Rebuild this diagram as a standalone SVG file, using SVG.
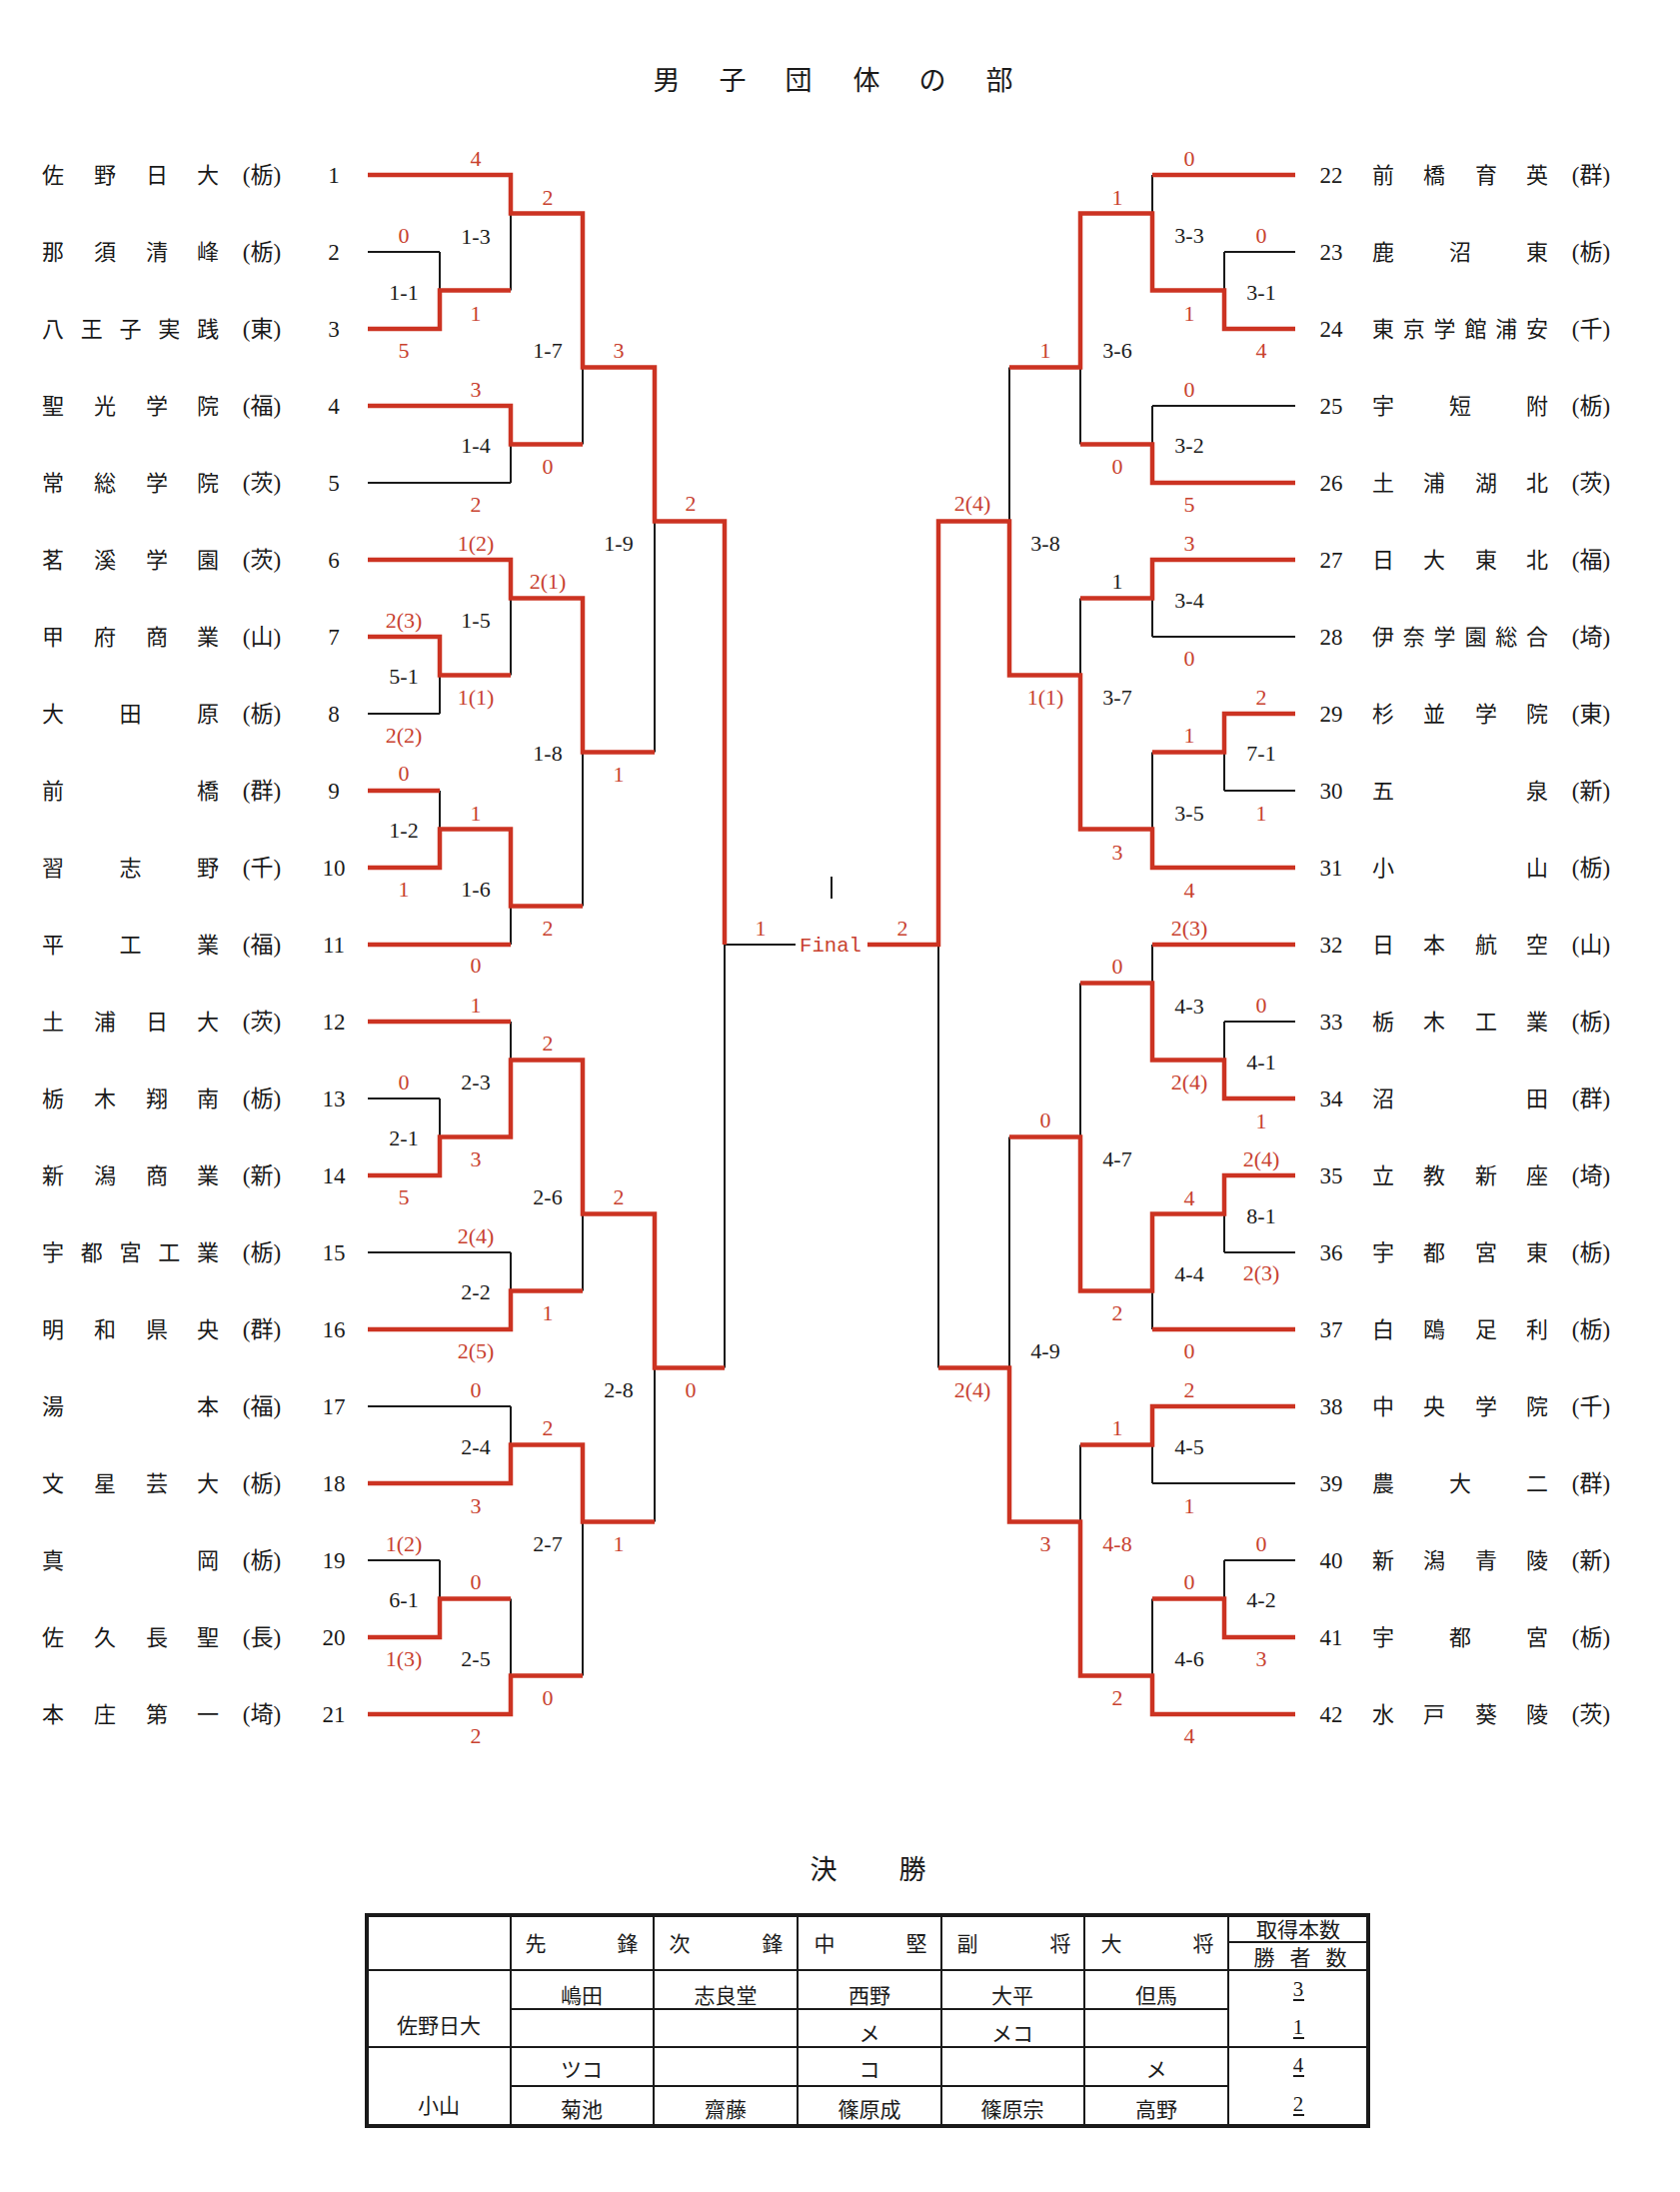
<svg xmlns="http://www.w3.org/2000/svg" width="1681" height="2193" viewBox="0 0 1681 2193">
<style>
.t{font-family:"Noto Sans CJK JP","Noto Sans CJK SC",sans-serif;font-size:27px;fill:#1a1a1a;text-anchor:middle}
.n{font-family:"Noto Sans CJK JP","Noto Sans CJK SC",sans-serif;font-size:22px;fill:#1a1a1a;text-anchor:middle}
.p{font-family:"Liberation Serif","Noto Sans CJK JP",serif;font-size:23px;fill:#1a1a1a;text-anchor:middle}
.num{font-family:"Liberation Serif",serif;font-size:23px;fill:#1a1a1a;text-anchor:middle}
.s{font-family:"Liberation Serif",serif;font-size:22px;fill:#c8412f;text-anchor:middle}
.m{font-family:"Liberation Serif",serif;font-size:22px;fill:#1a1a1a;text-anchor:middle}
.f{font-family:"Liberation Mono",monospace;font-size:21px;fill:#c8412f}
.bk{stroke:#1a1a1a;stroke-width:2;fill:none}
.rd{stroke:#cc3322;stroke-width:4.5;fill:none;stroke-linejoin:miter}
.tb{font-family:"Noto Sans CJK JP","Noto Sans CJK SC",sans-serif;font-size:21px;fill:#1a1a1a;text-anchor:middle}
.tn{font-family:"Liberation Serif",serif;font-size:21px;fill:#1a1a1a;text-anchor:middle}
</style>
<rect width="1681" height="2193" fill="#ffffff"/>
<g id="title"><text class="t" x="667 733 799 867 933 1000" y="90">男子団体の部</text></g>

<g id="connectors">
<path class="bk" d="M368 252H440M368 329H440M368 637H440M368 714H440M368 791H440M368 868H440M368 1099H440M368 1176H440M368 1561H440M368 1638H440
M368 175H511M368 406H511M368 483H511M368 560H511M368 945H511M368 1022H511M368 1253H511M368 1330H511M368 1407H511M368 1484H511M368 1715H511
M440 252V329M440 637V714M440 791V868M440 1099V1176M440 1561V1638
M511 175V290.5M511 406V483M511 560V675.5M511 829.5V945M511 1022V1137.5M511 1253V1330M511 1407V1484M511 1599.5V1715
M583 213.5V444.5M583 598.5V906.5M583 1060.5V1291.5M583 1445.5V1676.5
M655 367.5V752.5M655 1214.5V1522.5
M725 521.5V1368.5M725 945H796
M1225 252H1296M1225 329H1296M1225 714H1296M1225 791H1296M1225 1022H1296M1225 1099H1296M1225 1176H1296M1225 1253H1296M1225 1561H1296M1225 1638H1296
M1153 175H1296M1153 406H1296M1153 483H1296M1153 560H1296M1153 637H1296M1153 868H1296M1153 945H1296M1153 1330H1296M1153 1407H1296M1153 1484H1296M1153 1715H1296
M1225 252V329M1225 714V791M1225 1022V1099M1225 1176V1253M1225 1561V1638
M1153 175V290.5M1153 406V483M1153 560V637M1153 752.5V868M1153 945V1060.5M1153 1214.5V1330M1153 1407V1484M1153 1599.5V1715
M1081 213.5V444.5M1081 598.5V829.5M1081 983.5V1291.5M1081 1445.5V1676.5
M1010 367.5V675.5M1010 1137.5V1522.5
M939 521.5V1368.5"/>
<path class="bk" stroke-width="1.5" d="M832 877V899"/>
<path class="rd" d="M368 175H511V213.5H583V367.5H655V521.5H725V945
M368 329H440V290.5H511
M368 406H511V444.5H583
M368 560H511V598.5H583V752.5H655
M368 637H440V675.5H511
M368 791H440
M368 868H440V829.5H511V906.5H583
M368 945H511
M368 1022H511
M368 1176H440V1137.5H511V1060.5H583V1214.5H655V1368.5H725
M368 1330H511V1291.5H583
M368 1484H511V1445.5H583V1522.5H655
M368 1638H440V1599.5H511
M368 1715H511V1676.5H583
M868 945H939V521.5H1010V675.5H1081V829.5H1153V868H1296
M1296 175H1153
M1296 329H1225V290.5H1153V213.5H1081V367.5H1010
M1296 483H1153V444.5H1081
M1296 560H1153V598.5H1081
M1296 714H1225V752.5H1153
M1296 945H1153
M1296 1099H1225V1060.5H1153V983.5H1081
M1296 1176H1225V1214.5H1153V1291.5H1081V1137.5H1010
M1296 1330H1153
M1296 1407H1153V1445.5H1081
M1296 1638H1225V1599.5H1153
M1296 1715H1153V1676.5H1081V1522.5H1010V1368.5H939"/>
<text class="f" x="800" y="952" textLength="62" lengthAdjust="spacingAndGlyphs">Final</text>
</g>

<g id="labels">
<text class="s" x="476" y="166">4</text>
<text class="s" x="404" y="243">0</text>
<text class="m" x="476" y="244">1-3</text>
<text class="m" x="404" y="300">1-1</text>
<text class="s" x="476" y="321">1</text>
<text class="s" x="404" y="358">5</text>
<text class="s" x="548" y="205">2</text>
<text class="m" x="548" y="358">1-7</text>
<text class="s" x="619" y="358">3</text>
<text class="s" x="476" y="397">3</text>
<text class="m" x="476" y="453">1-4</text>
<text class="s" x="548" y="474">0</text>
<text class="s" x="476" y="512">2</text>
<text class="s" x="691" y="511">2</text>
<text class="m" x="619" y="551">1-9</text>
<text class="s" x="476" y="551">1(2)</text>
<text class="s" x="548" y="589">2(1)</text>
<text class="s" x="404" y="628">2(3)</text>
<text class="m" x="476" y="628">1-5</text>
<text class="m" x="404" y="684">5-1</text>
<text class="s" x="476" y="705">1(1)</text>
<text class="s" x="404" y="743">2(2)</text>
<text class="m" x="548" y="761">1-8</text>
<text class="s" x="619" y="782">1</text>
<text class="s" x="404" y="781">0</text>
<text class="s" x="476" y="821">1</text>
<text class="m" x="404" y="838">1-2</text>
<text class="s" x="404" y="897">1</text>
<text class="m" x="476" y="897">1-6</text>
<text class="s" x="548" y="936">2</text>
<text class="s" x="476" y="973">0</text>
<text class="s" x="761" y="936">1</text>
<text class="s" x="476" y="1013">1</text>
<text class="s" x="548" y="1051">2</text>
<text class="s" x="404" y="1090">0</text>
<text class="m" x="476" y="1090">2-3</text>
<text class="m" x="404" y="1146">2-1</text>
<text class="s" x="476" y="1167">3</text>
<text class="s" x="404" y="1205">5</text>
<text class="m" x="548" y="1205">2-6</text>
<text class="s" x="619" y="1205">2</text>
<text class="s" x="476" y="1244">2(4)</text>
<text class="m" x="476" y="1300">2-2</text>
<text class="s" x="548" y="1321">1</text>
<text class="s" x="476" y="1359">2(5)</text>
<text class="s" x="476" y="1398">0</text>
<text class="m" x="619" y="1398">2-8</text>
<text class="s" x="691" y="1398">0</text>
<text class="s" x="548" y="1436">2</text>
<text class="m" x="476" y="1455">2-4</text>
<text class="s" x="476" y="1514">3</text>
<text class="s" x="404" y="1552">1(2)</text>
<text class="m" x="548" y="1552">2-7</text>
<text class="s" x="619" y="1552">1</text>
<text class="s" x="476" y="1590">0</text>
<text class="m" x="404" y="1608">6-1</text>
<text class="s" x="404" y="1667">1(3)</text>
<text class="m" x="476" y="1667">2-5</text>
<text class="s" x="548" y="1706">0</text>
<text class="s" x="476" y="1744">2</text>

<text class="s" x="1190" y="166">0</text>
<text class="s" x="1262" y="243">0</text>
<text class="m" x="1190" y="243">3-3</text>
<text class="s" x="1118" y="205">1</text>
<text class="m" x="1262" y="300">3-1</text>
<text class="s" x="1190" y="321">1</text>
<text class="s" x="1262" y="358">4</text>
<text class="m" x="1118" y="358">3-6</text>
<text class="s" x="1046" y="358">1</text>
<text class="s" x="1190" y="397">0</text>
<text class="m" x="1190" y="453">3-2</text>
<text class="s" x="1118" y="474">0</text>
<text class="s" x="1190" y="512">5</text>
<text class="s" x="973" y="511">2(4)</text>
<text class="m" x="1046" y="551">3-8</text>
<text class="s" x="1190" y="551">3</text>
<text class="m" x="1118" y="589">1</text>
<text class="m" x="1190" y="608">3-4</text>
<text class="s" x="1190" y="666">0</text>
<text class="s" x="1046" y="705">1(1)</text>
<text class="m" x="1118" y="705">3-7</text>
<text class="s" x="1262" y="705">2</text>
<text class="s" x="1190" y="743">1</text>
<text class="m" x="1262" y="761">7-1</text>
<text class="m" x="1190" y="821">3-5</text>
<text class="s" x="1262" y="821">1</text>
<text class="s" x="1118" y="860">3</text>
<text class="s" x="1190" y="898">4</text>
<text class="s" x="903" y="936">2</text>
<text class="s" x="1190" y="936">2(3)</text>
<text class="s" x="1118" y="974">0</text>
<text class="s" x="1262" y="1013">0</text>
<text class="m" x="1190" y="1014">4-3</text>
<text class="m" x="1262" y="1070">4-1</text>
<text class="s" x="1190" y="1090">2(4)</text>
<text class="s" x="1046" y="1128">0</text>
<text class="s" x="1262" y="1129">1</text>
<text class="m" x="1118" y="1167">4-7</text>
<text class="s" x="1262" y="1167">2(4)</text>
<text class="s" x="1190" y="1206">4</text>
<text class="m" x="1262" y="1224">8-1</text>
<text class="m" x="1190" y="1282">4-4</text>
<text class="s" x="1262" y="1281">2(3)</text>
<text class="s" x="1118" y="1321">2</text>
<text class="m" x="1046" y="1359">4-9</text>
<text class="s" x="1190" y="1359">0</text>
<text class="s" x="973" y="1398">2(4)</text>
<text class="s" x="1190" y="1398">2</text>
<text class="s" x="1118" y="1436">1</text>
<text class="m" x="1190" y="1455">4-5</text>
<text class="s" x="1190" y="1514">1</text>
<text class="s" x="1046" y="1552">3</text>
<text class="s" x="1118" y="1552">4-8</text>
<text class="s" x="1262" y="1552">0</text>
<text class="s" x="1190" y="1590">0</text>
<text class="m" x="1262" y="1608">4-2</text>
<text class="m" x="1190" y="1667">4-6</text>
<text class="s" x="1262" y="1667">3</text>
<text class="s" x="1118" y="1706">2</text>
<text class="s" x="1190" y="1744">4</text>
</g>

<g id="team-1"><text class="n" x="53 105 157 208" y="183">佐野日大</text><text class="p" x="262" y="183">(栃)</text><text class="num" x="334" y="183">1</text></g>
<g id="team-2"><text class="n" x="53 105 157 208" y="260">那須清峰</text><text class="p" x="262" y="260">(栃)</text><text class="num" x="334" y="260">2</text></g>
<g id="team-3"><text class="n" x="53 91.75 130.5 169.25 208" y="337">八王子実践</text><text class="p" x="262" y="337">(東)</text><text class="num" x="334" y="337">3</text></g>
<g id="team-4"><text class="n" x="53 105 157 208" y="414">聖光学院</text><text class="p" x="262" y="414">(福)</text><text class="num" x="334" y="414">4</text></g>
<g id="team-5"><text class="n" x="53 105 157 208" y="491">常総学院</text><text class="p" x="262" y="491">(茨)</text><text class="num" x="334" y="491">5</text></g>
<g id="team-6"><text class="n" x="53 105 157 208" y="568">茗溪学園</text><text class="p" x="262" y="568">(茨)</text><text class="num" x="334" y="568">6</text></g>
<g id="team-7"><text class="n" x="53 105 157 208" y="645">甲府商業</text><text class="p" x="262" y="645">(山)</text><text class="num" x="334" y="645">7</text></g>
<g id="team-8"><text class="n" x="53 130.5 208" y="722">大田原</text><text class="p" x="262" y="722">(栃)</text><text class="num" x="334" y="722">8</text></g>
<g id="team-9"><text class="n" x="53 208" y="799">前橋</text><text class="p" x="262" y="799">(群)</text><text class="num" x="334" y="799">9</text></g>
<g id="team-10"><text class="n" x="53 130.5 208" y="876">習志野</text><text class="p" x="262" y="876">(千)</text><text class="num" x="334" y="876">10</text></g>
<g id="team-11"><text class="n" x="53 130.5 208" y="953">平工業</text><text class="p" x="262" y="953">(福)</text><text class="num" x="334" y="953">11</text></g>
<g id="team-12"><text class="n" x="53 105 157 208" y="1030">土浦日大</text><text class="p" x="262" y="1030">(茨)</text><text class="num" x="334" y="1030">12</text></g>
<g id="team-13"><text class="n" x="53 105 157 208" y="1107">栃木翔南</text><text class="p" x="262" y="1107">(栃)</text><text class="num" x="334" y="1107">13</text></g>
<g id="team-14"><text class="n" x="53 105 157 208" y="1184">新潟商業</text><text class="p" x="262" y="1184">(新)</text><text class="num" x="334" y="1184">14</text></g>
<g id="team-15"><text class="n" x="53 91.75 130.5 169.25 208" y="1261">宇都宮工業</text><text class="p" x="262" y="1261">(栃)</text><text class="num" x="334" y="1261">15</text></g>
<g id="team-16"><text class="n" x="53 105 157 208" y="1338">明和県央</text><text class="p" x="262" y="1338">(群)</text><text class="num" x="334" y="1338">16</text></g>
<g id="team-17"><text class="n" x="53 208" y="1415">湯本</text><text class="p" x="262" y="1415">(福)</text><text class="num" x="334" y="1415">17</text></g>
<g id="team-18"><text class="n" x="53 105 157 208" y="1492">文星芸大</text><text class="p" x="262" y="1492">(栃)</text><text class="num" x="334" y="1492">18</text></g>
<g id="team-19"><text class="n" x="53 208" y="1569">真岡</text><text class="p" x="262" y="1569">(栃)</text><text class="num" x="334" y="1569">19</text></g>
<g id="team-20"><text class="n" x="53 105 157 208" y="1646">佐久長聖</text><text class="p" x="262" y="1646">(長)</text><text class="num" x="334" y="1646">20</text></g>
<g id="team-21"><text class="n" x="53 105 157 208" y="1723">本庄第一</text><text class="p" x="262" y="1723">(埼)</text><text class="num" x="334" y="1723">21</text></g>

<g id="team-22"><text class="num" x="1332" y="183">22</text><text class="n" x="1384 1435 1487 1538" y="183">前橋育英</text><text class="p" x="1592" y="183">(群)</text></g>
<g id="team-23"><text class="num" x="1332" y="260">23</text><text class="n" x="1384 1461 1538" y="260">鹿沼東</text><text class="p" x="1592" y="260">(栃)</text></g>
<g id="team-24"><text class="num" x="1332" y="337">24</text><text class="n" x="1384 1414.8 1445.6 1476.4 1507.2 1538" y="337">東京学館浦安</text><text class="p" x="1592" y="337">(千)</text></g>
<g id="team-25"><text class="num" x="1332" y="414">25</text><text class="n" x="1384 1461 1538" y="414">宇短附</text><text class="p" x="1592" y="414">(栃)</text></g>
<g id="team-26"><text class="num" x="1332" y="491">26</text><text class="n" x="1384 1435 1487 1538" y="491">土浦湖北</text><text class="p" x="1592" y="491">(茨)</text></g>
<g id="team-27"><text class="num" x="1332" y="568">27</text><text class="n" x="1384 1435 1487 1538" y="568">日大東北</text><text class="p" x="1592" y="568">(福)</text></g>
<g id="team-28"><text class="num" x="1332" y="645">28</text><text class="n" x="1384 1414.8 1445.6 1476.4 1507.2 1538" y="645">伊奈学園総合</text><text class="p" x="1592" y="645">(埼)</text></g>
<g id="team-29"><text class="num" x="1332" y="722">29</text><text class="n" x="1384 1435 1487 1538" y="722">杉並学院</text><text class="p" x="1592" y="722">(東)</text></g>
<g id="team-30"><text class="num" x="1332" y="799">30</text><text class="n" x="1384 1538" y="799">五泉</text><text class="p" x="1592" y="799">(新)</text></g>
<g id="team-31"><text class="num" x="1332" y="876">31</text><text class="n" x="1384 1538" y="876">小山</text><text class="p" x="1592" y="876">(栃)</text></g>
<g id="team-32"><text class="num" x="1332" y="953">32</text><text class="n" x="1384 1435 1487 1538" y="953">日本航空</text><text class="p" x="1592" y="953">(山)</text></g>
<g id="team-33"><text class="num" x="1332" y="1030">33</text><text class="n" x="1384 1435 1487 1538" y="1030">栃木工業</text><text class="p" x="1592" y="1030">(栃)</text></g>
<g id="team-34"><text class="num" x="1332" y="1107">34</text><text class="n" x="1384 1538" y="1107">沼田</text><text class="p" x="1592" y="1107">(群)</text></g>
<g id="team-35"><text class="num" x="1332" y="1184">35</text><text class="n" x="1384 1435 1487 1538" y="1184">立教新座</text><text class="p" x="1592" y="1184">(埼)</text></g>
<g id="team-36"><text class="num" x="1332" y="1261">36</text><text class="n" x="1384 1435 1487 1538" y="1261">宇都宮東</text><text class="p" x="1592" y="1261">(栃)</text></g>
<g id="team-37"><text class="num" x="1332" y="1338">37</text><text class="n" x="1384 1435 1487 1538" y="1338">白鴎足利</text><text class="p" x="1592" y="1338">(栃)</text></g>
<g id="team-38"><text class="num" x="1332" y="1415">38</text><text class="n" x="1384 1435 1487 1538" y="1415">中央学院</text><text class="p" x="1592" y="1415">(千)</text></g>
<g id="team-39"><text class="num" x="1332" y="1492">39</text><text class="n" x="1384 1461 1538" y="1492">農大二</text><text class="p" x="1592" y="1492">(群)</text></g>
<g id="team-40"><text class="num" x="1332" y="1569">40</text><text class="n" x="1384 1435 1487 1538" y="1569">新潟青陵</text><text class="p" x="1592" y="1569">(新)</text></g>
<g id="team-41"><text class="num" x="1332" y="1646">41</text><text class="n" x="1384 1461 1538" y="1646">宇都宮</text><text class="p" x="1592" y="1646">(栃)</text></g>
<g id="team-42"><text class="num" x="1332" y="1723">42</text><text class="n" x="1384 1435 1487 1538" y="1723">水戸葵陵</text><text class="p" x="1592" y="1723">(茨)</text></g>

<g id="final-table">
<text class="t" x="824 913" y="1880">決勝</text>
<rect x="367" y="1916" width="1002" height="211" fill="none" stroke="#1a1a1a" stroke-width="4"/>
<path class="bk" d="M511 1916V2127M654 1916V2127M798 1916V2127M942 1916V2127M1085 1916V2127M1229 1916V2127M511 2010H1229M511 2087H1229M1229 1943H1369"/>
<path class="bk" stroke-width="3" d="M367 1971H1369M367 2048H1369"/>
<text class="tb" x="536 628" y="1952">先鋒</text>
<text class="tb" x="680 773" y="1952">次鋒</text>
<text class="tb" x="825 917" y="1952">中堅</text>
<text class="tb" x="968 1061" y="1952">副将</text>
<text class="tb" x="1112 1204" y="1952">大将</text>
<text class="tb" x="1299" y="1938" font-size="19">取得本数</text>
<text class="tb" x="1265 1301 1337" y="1966" font-size="19">勝者数</text>
<text class="tb" x="439" y="2034">佐野日大</text>
<text class="tb" x="439" y="2114">小山</text>
<text class="tb" x="582" y="2004">嶋田</text>
<text class="tb" x="726" y="2004">志良堂</text>
<text class="tb" x="870" y="2004">西野</text>
<text class="tb" x="1013" y="2004">大平</text>
<text class="tb" x="1157" y="2004">但馬</text>
<text class="tb" x="870" y="2042">メ</text>
<text class="tb" x="1013" y="2042">メコ</text>
<text class="tb" x="582" y="2078">ツコ</text>
<text class="tb" x="870" y="2078">コ</text>
<text class="tb" x="1157" y="2078">メ</text>
<text class="tb" x="582" y="2118">菊池</text>
<text class="tb" x="726" y="2118">齋藤</text>
<text class="tb" x="870" y="2118">篠原成</text>
<text class="tb" x="1013" y="2118">篠原宗</text>
<text class="tb" x="1157" y="2118">高野</text>
<text class="tn" x="1299" y="1997">3</text>
<text class="tn" x="1299" y="2035">1</text>
<text class="tn" x="1299" y="2073">4</text>
<text class="tn" x="1299" y="2112">2</text>
<path class="bk" stroke-width="1.2" d="M1294 2001H1305M1294 2039H1305M1294 2077H1305M1294 2116H1305"/>
</g>
</svg>
